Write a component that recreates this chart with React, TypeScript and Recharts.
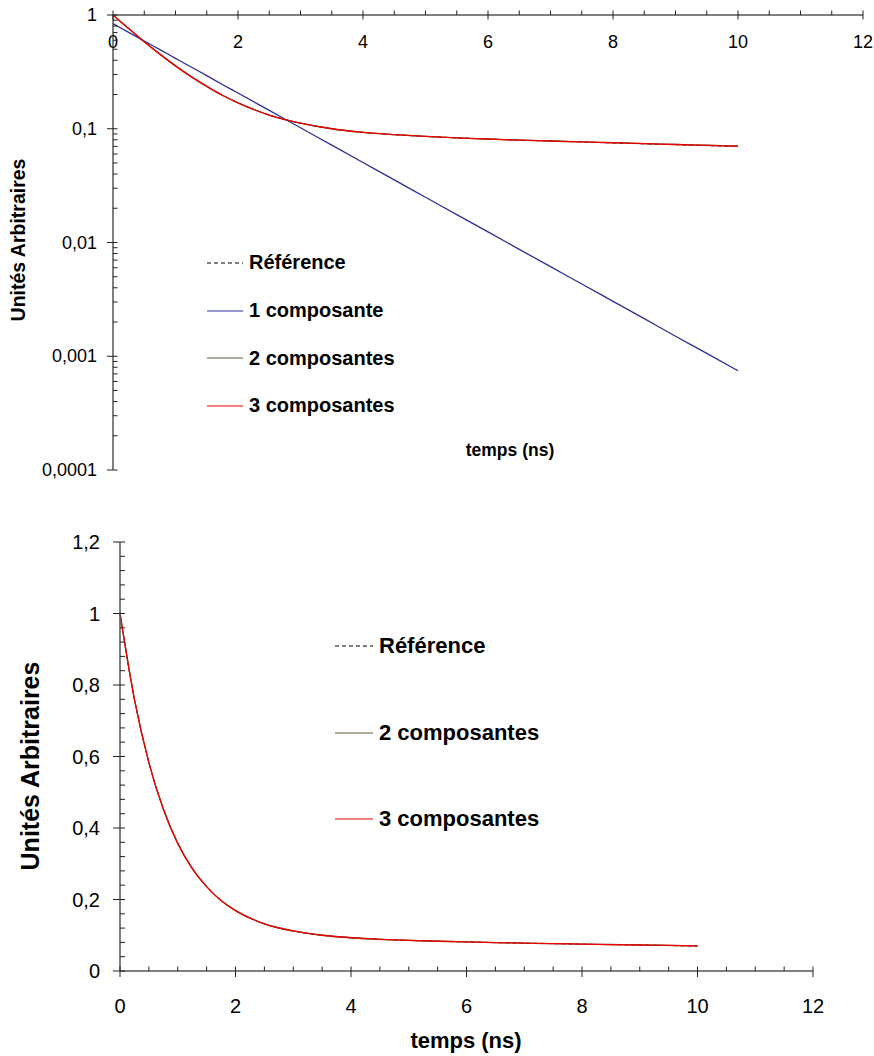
import React from "react";
import { Legend, Line, LineChart, XAxis, YAxis } from "recharts";

// temps (ns)
const temps = [0, 0.25, 0.5, 0.75, 1, 1.25, 1.5, 1.75, 2, 2.5, 3, 3.5, 4, 4.5, 5, 5.5, 6, 6.5, 7, 7.5, 8, 8.5, 9, 9.5, 10];

const reference = [1.0, 0.76, 0.583, 0.453, 0.357, 0.287, 0.236, 0.197, 0.169, 0.132, 0.112, 0.1, 0.093, 0.0887, 0.0856, 0.0832, 0.0813, 0.0794, 0.078, 0.0766, 0.075, 0.0737, 0.0724, 0.0711, 0.0698];
const uneComposante = [0.84, 0.704, 0.59, 0.496, 0.416, 0.349, 0.293, 0.245, 0.206, 0.145, 0.102, 0.0718, 0.0505, 0.0355, 0.025, 0.0176, 0.0124, 0.00871, 0.00613, 0.00432, 0.00304, 0.00214, 0.0015, 0.00106, 0.000745];
const deuxComposantes = [1.0, 0.76, 0.583, 0.453, 0.357, 0.287, 0.236, 0.197, 0.169, 0.132, 0.112, 0.1, 0.093, 0.0887, 0.0856, 0.0832, 0.0813, 0.0794, 0.078, 0.0766, 0.0754, 0.0741, 0.0728, 0.0716, 0.0704];
const troisComposantes = [1.0, 0.76, 0.583, 0.453, 0.357, 0.287, 0.236, 0.197, 0.169, 0.132, 0.112, 0.1, 0.093, 0.0887, 0.0856, 0.0832, 0.0813, 0.0794, 0.078, 0.0766, 0.0753, 0.074, 0.0727, 0.0714, 0.0702];

const xTicks = [0, 0.5, 1, 1.5, 2, 2.5, 3, 3.5, 4, 4.5, 5, 5.5, 6, 6.5, 7, 7.5, 8, 8.5, 9, 9.5, 10, 10.5, 11, 11.5, 12];
const logMajor = [0.0001, 0.001, 0.01, 0.1, 1];
const logTicks = [
  0.0001, 0.0002, 0.0003, 0.0004, 0.0005, 0.0006, 0.0007, 0.0008, 0.0009,
  0.001, 0.002, 0.003, 0.004, 0.005, 0.006, 0.007, 0.008, 0.009,
  0.01, 0.02, 0.03, 0.04, 0.05, 0.06, 0.07, 0.08, 0.09,
  0.1, 0.2, 0.3, 0.4, 0.5, 0.6, 0.7, 0.8, 0.9, 1,
];
const linTicks = [0, 0.04, 0.08, 0.12, 0.16, 0.2, 0.24, 0.28, 0.32, 0.36, 0.4, 0.44, 0.48, 0.52, 0.56, 0.6, 0.64, 0.68, 0.72, 0.76, 0.8, 0.84, 0.88, 0.92, 0.96, 1, 1.04, 1.08, 1.12, 1.16, 1.2];

const legendOrder = ["ref", "c1", "c2", "c3"];

const rows = temps.map((t, i) => ({
  t,
  ref: reference[i],
  c1: uneComposante[i],
  c2: deuxComposantes[i],
  c3: troisComposantes[i],
}));

const FONT = "'Liberation Sans', Arial, Helvetica, sans-serif";
const AXIS = "#555";
const TICK = "#222";

function fr(v: number) {
  return String(Math.round(v * 10000) / 10000).replace(".", ",");
}

function LegendBox({ payload, rowH, lineW, fontSize }: any) {
  const items = [...(payload || [])].sort(
    (a: any, b: any) => legendOrder.indexOf(a.dataKey) - legendOrder.indexOf(b.dataKey)
  );
  return (
    <div style={{ fontFamily: FONT, fontWeight: "bold", fontSize, color: "#000" }}>
      {items.map((e: any) => (
        <div key={e.value} style={{ height: rowH, display: "flex", alignItems: "center", whiteSpace: "nowrap" }}>
          <svg width={lineW} height={4} style={{ marginRight: 6 }}>
            <line
              x1={0}
              x2={lineW}
              y1={2}
              y2={2}
              stroke={e.color}
              strokeWidth={1.2}
              strokeDasharray={e.dataKey === "ref" ? "4 3" : undefined}
            />
          </svg>
          <span>{e.value}</span>
        </div>
      ))}
    </div>
  );
}

function TopChart() {
  const axisY = 15;
  const axisX = 113;
  return (
    <LineChart width={874} height={490} data={rows} margin={{ top: 0, right: 11, left: 0, bottom: 20 }}>
      <XAxis
        type="number"
        dataKey="t"
        orientation="top"
        domain={[0, 12]}
        ticks={xTicks}
        interval={0}
        height={15}
        tickLine={false}
        axisLine={{ stroke: AXIS, strokeWidth: 1.5 }}
        tick={(p: any) => {
          const v = p.payload.value;
          const major = Math.abs(v % 2) < 1e-6;
          return (
            <g>
              <line x1={p.x} x2={p.x} y1={axisY - 4.5} y2={major ? axisY + 4.5 : axisY} stroke={TICK} strokeWidth={1} />
              {major && (
                <text x={p.x} y={42} textAnchor="middle" dominantBaseline="central" fontFamily={FONT} fontSize={18} fill="#000">
                  {v}
                </text>
              )}
            </g>
          );
        }}
        label={{
          content: () => (
            <text x={510} y={450} textAnchor="middle" dominantBaseline="central" fontFamily={FONT} fontWeight="bold" fontSize={17.5} fill="#000">
              temps (ns)
            </text>
          ),
        }}
      />
      <YAxis
        type="number"
        scale="log"
        domain={[0.0001, 1]}
        allowDataOverflow
        ticks={logTicks}
        interval={0}
        width={113}
        tickLine={false}
        axisLine={{ stroke: AXIS, strokeWidth: 1.5 }}
        tick={(p: any) => {
          const v = p.payload.value;
          const major = logMajor.some((m) => Math.abs(m - v) / m < 1e-6);
          return (
            <g>
              <line x1={major ? axisX - 6 : axisX} x2={axisX + 4.5} y1={p.y} y2={p.y} stroke={TICK} strokeWidth={1} />
              {major && (
                <text x={97} y={p.y} textAnchor="end" dominantBaseline="central" fontFamily={FONT} fontSize={18} fill="#000">
                  {fr(v)}
                </text>
              )}
            </g>
          );
        }}
        label={{
          content: () => (
            <text
              x={18}
              y={240}
              transform="rotate(-90 18 240)"
              textAnchor="middle"
              dominantBaseline="central"
              fontFamily={FONT}
              fontWeight="bold"
              fontSize={19.5}
              fill="#000"
            >
              Unités Arbitraires
            </text>
          ),
        }}
      />
      <Legend
        layout="vertical"
        align="center"
        verticalAlign="middle"
        wrapperStyle={{ left: 207, top: 239, width: 320, height: "auto" }}
        content={(props: any) => <LegendBox payload={props.payload} rowH={47.7} lineW={36} fontSize={20} />}
      />
      <Line type="monotone" dataKey="ref" name="Référence" stroke="#000" strokeWidth={1} strokeDasharray="4 3" dot={false} isAnimationActive={false} />
      <Line type="monotone" dataKey="c1" name="1 composante" stroke="#2e2e9a" strokeWidth={1.3} dot={false} isAnimationActive={false} />
      <Line type="monotone" dataKey="c2" name="2 composantes" stroke="#5c5c38" strokeWidth={1.3} dot={false} isAnimationActive={false} />
      <Line type="monotone" dataKey="c3" name="3 composantes" stroke="#ee0000" strokeWidth={1.3} dot={false} isAnimationActive={false} />
    </LineChart>
  );
}

function BottomChart() {
  const axisY = 471;
  const axisX = 120;
  return (
    <LineChart width={874} height={556} data={rows} margin={{ top: 42, right: 61, left: 0, bottom: 0 }}>
      <XAxis
        type="number"
        dataKey="t"
        domain={[0, 12]}
        ticks={xTicks}
        interval={0}
        height={85}
        tickLine={false}
        axisLine={{ stroke: AXIS, strokeWidth: 1.5 }}
        tick={(p: any) => {
          const v = p.payload.value;
          const major = Math.abs(v % 2) < 1e-6;
          return (
            <g>
              <line x1={p.x} x2={p.x} y1={axisY - 4.5} y2={major ? axisY + 6 : axisY} stroke={TICK} strokeWidth={1} />
              {major && (
                <text x={p.x} y={505.5} textAnchor="middle" dominantBaseline="central" fontFamily={FONT} fontSize={20} fill="#000">
                  {v}
                </text>
              )}
            </g>
          );
        }}
        label={{
          content: () => (
            <text x={466} y={540} textAnchor="middle" dominantBaseline="central" fontFamily={FONT} fontWeight="bold" fontSize={22} fill="#000">
              temps (ns)
            </text>
          ),
        }}
      />
      <YAxis
        type="number"
        domain={[0, 1.2]}
        ticks={linTicks}
        interval={0}
        width={120}
        tickLine={false}
        axisLine={{ stroke: AXIS, strokeWidth: 1.5 }}
        tick={(p: any) => {
          const v = p.payload.value;
          const major = Math.abs(v * 5 - Math.round(v * 5)) < 1e-6;
          return (
            <g>
              <line x1={major ? axisX - 7 : axisX} x2={axisX + 5} y1={p.y} y2={p.y} stroke={TICK} strokeWidth={1} />
              {major && (
                <text x={100} y={p.y} textAnchor="end" dominantBaseline="central" fontFamily={FONT} fontSize={20} fill="#000">
                  {fr(Math.round(v * 10) / 10)}
                </text>
              )}
            </g>
          );
        }}
        label={{
          content: () => (
            <text
              x={30}
              y={266}
              transform="rotate(-90 30 266)"
              textAnchor="middle"
              dominantBaseline="central"
              fontFamily={FONT}
              fontWeight="bold"
              fontSize={25}
              fill="#000"
            >
              Unités Arbitraires
            </text>
          ),
        }}
      />
      <Legend
        layout="vertical"
        align="center"
        verticalAlign="middle"
        wrapperStyle={{ left: 335, top: 102.7, width: 320, height: "auto" }}
        content={(props: any) => <LegendBox payload={props.payload} rowH={86.7} lineW={38} fontSize={22} />}
      />
      <Line type="monotone" dataKey="ref" name="Référence" stroke="#000" strokeWidth={1} strokeDasharray="4 3" dot={false} isAnimationActive={false} />
      <Line type="monotone" dataKey="c2" name="2 composantes" stroke="#5c5c38" strokeWidth={1.3} dot={false} isAnimationActive={false} />
      <Line type="monotone" dataKey="c3" name="3 composantes" stroke="#ee0000" strokeWidth={1.3} dot={false} isAnimationActive={false} />
    </LineChart>
  );
}

export default function App() {
  return (
    <div style={{ position: "absolute", left: 0, top: 0, width: 874, height: 1056, background: "#fff" }}>
      <div style={{ position: "absolute", left: 0, top: 0 }}>
        <TopChart />
      </div>
      <div style={{ position: "absolute", left: 0, top: 500 }}>
        <BottomChart />
      </div>
    </div>
  );
}
